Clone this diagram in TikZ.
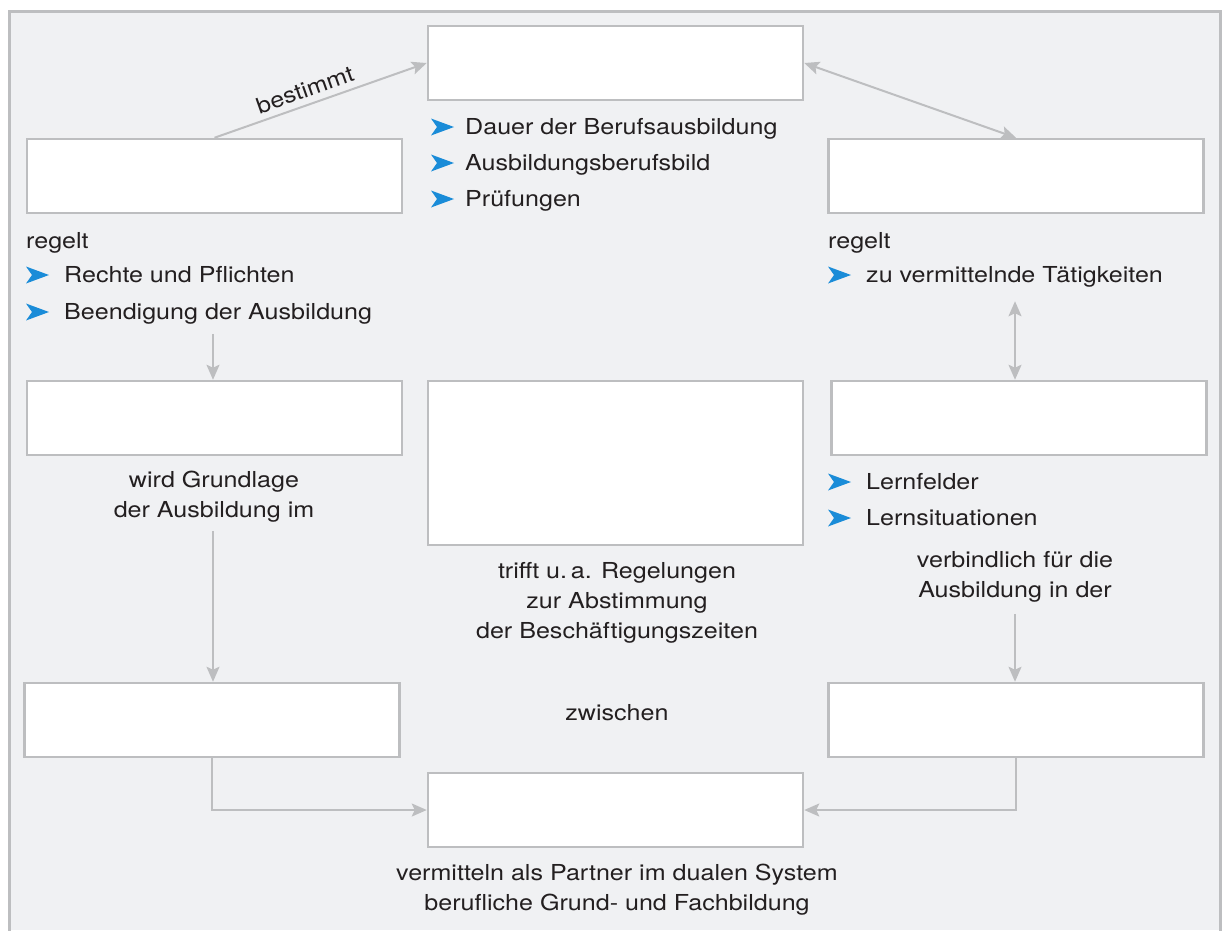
\documentclass[tikz,border=0pt]{standalone}
\usepackage{fontspec}
\setmainfont{TeX Gyre Heros}[FakeStretch=1.14]
\usepackage{xcolor}
\usepackage{tikz}
\usetikzlibrary{calc,positioning}
\usetikzlibrary{arrows.meta}
\definecolor{panelColor}{HTML}{F0F1F3}
\definecolor{lineColor}{HTML}{BDBEC0}
\definecolor{bulletBlue}{HTML}{1A8CD8}
\definecolor{textColor}{HTML}{231F20}
\tikzstyle{box}=[rectangle, draw=lineColor, line width=2.5pt, fill=white, minimum width=375pt, minimum height=74pt]
\tikzstyle{arrow}=[draw=lineColor, line width=2pt, -{Stealth[length=15pt,width=13pt,inset=3pt]}]
\tikzset{
	both arrow/.style={
		arrow,
		{Stealth[length=15pt,width=13pt,inset=3pt]}-{Stealth[length=15pt,width=13pt,inset=3pt]}
	},
	txt/.style={
		text=textColor,
		font=\fontsize{22}{30}\selectfont,
		inner sep=0pt
	},
	listitem/.style={
		txt,
		anchor=base west
	},
	pfeil/.pic={
		\fill[bulletBlue] (0,-8.5) -- (23,0) -- (0,8.5) -- (6,0) -- cycle;
	}
}

\begin{document}
\begin{tikzpicture}[x=1pt,y=-1pt]
	\useasboundingbox (0,0) rectangle (1223,930);
	% panel
	\fill[panelColor] (9,11) rectangle (1220,930);
	\draw[lineColor, line width=3pt] (9,935) -- (9,11) -- (1220,11) -- (1220,935);
	
	% boxes
	\node(gesetz)[box] at (615.5,63) {};
	\node(vertrag)[box] at (214.5,176) {};
	\node(verordnung)[box] at (1016,176) {};
	\node(plan)[box] at (214.5,418) {};
	\node(kooperation)[box, minimum height=164pt] at (615.5,463) {};
	\node(rahmenplan)[box] at (1019,418) {};
	\node(betrieb)[box] at (212,720) {};
	\node(schule)[box] at (1016,720) {};
	\node(partner)[box] at (615.5,810) {};
	
	% lists
	\node(dauer)[listitem] at (465,134) {Dauer der Berufsausbildung};
	\node(berufsbild)[listitem] at (465,170) {Ausbildungsberufsbild};
	\node(pruefung)[listitem] at (465,206) {Prüfungen};
	\pic at (431,127) {pfeil};
	\pic at (431,163) {pfeil};
	\pic at (431,199) {pfeil};
	
	\node(regeltL)[listitem] at (26,248) {regelt};
	\node(rechte)[listitem] at (64,282) {Rechte und Pflichten};
	\node(beendigung)[listitem] at (64,319) {Beendigung der Ausbildung};
	\pic at (26,275) {pfeil};
	\pic at (26,312) {pfeil};
	
	\node(regeltR)[listitem] at (828,248) {regelt};
	\node(taetigkeit)[listitem] at (866,282) {zu vermittelnde Tätigkeiten};
	\pic at (828,275) {pfeil};
	
	\node(lernfelder)[listitem] at (866,489) {Lernfelder};
	\node(lernsit)[listitem] at (866,525) {Lernsituationen};
	\pic at (828,482) {pfeil};
	\pic at (828,518) {pfeil};
	
	% texts
	\node(grundlage)[txt, align=center] at (214,497) {wird Grundlage\\der Ausbildung im};
	\node(regelungen)[txt, align=center] at (617,603) {trifft u.\,a. Regelungen\\zur Abstimmung\\der Beschäftigungszeiten};
	\node(verbindlich)[txt, align=center] at (1015,577) {verbindlich für die\\Ausbildung in der};
	\node(zwischen)[txt] at (617,713) {zwischen};
	\node(vermitteln)[txt, align=center] at (617,890) {vermitteln als Partner im dualen System\\berufliche Grund- und Fachbildung};
	
	% connectors
	\coordinate (c1) at ($(plan.north)+(-1.5,-46)$);
	\coordinate (c2) at ($(betrieb.north)+(1,-151)$);
	\coordinate (c3) at ($(schule.north)+(-1,-68)$);
	\coordinate (c4) at ($(verordnung.south)+(-1,87)$);
	\coordinate (c5) at (c4 |- rahmenplan.north);
	\coordinate (c6) at ($(plan.north)+(-1.5,0)$);
	\coordinate (c7) at (c3 |- schule.north);
	\coordinate (c8) at (c2 |- betrieb.north);
	
	\draw [arrow] (vertrag.north) -- node[txt, sloped, above=6pt, pos=0.45]{bestimmt} (gesetz.west);
	\draw [both arrow] (gesetz.east) -- (verordnung.north);
	\draw [arrow] (c1) -- (c6);
	\draw [arrow] (c2) -- (c8);
	\draw [arrow] (c3) -- (c7);
	\draw [both arrow] (c4) -- (c5);
	\draw [arrow] (betrieb.south) |- (partner.west);
	\draw [arrow] (schule.south) |- (partner.east);
\end{tikzpicture}
\end{document}
